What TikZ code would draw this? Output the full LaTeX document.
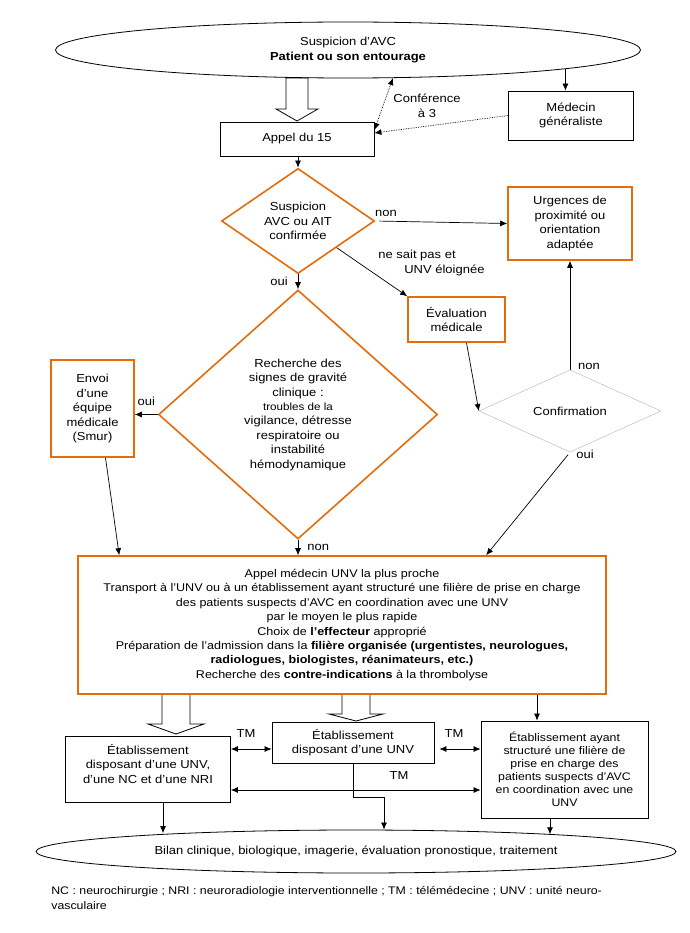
\documentclass[tikz,border=0pt]{standalone}
\usepackage{fontspec}
\setmainfont{Liberation Sans}[FakeStretch=1.12]
\usepackage{xcolor}
\usepackage{tikz}
\usetikzlibrary{arrows,arrows.meta,shapes.geometric}

\definecolor{avcorange}{RGB}{228,108,10}

% open (hollow) arrow: x, y top, y head, y tip, half shaft, half head
\newcommand{\hollowarrow}[6]{%
  \draw[line width=0.8pt] ({#1-#5},#2) -- ({#1+#5},#2) -- ({#1+#5},#3) -- ({#1+#6},#3)
    -- (#1,#4) -- ({#1-#6},#3) -- ({#1-#5},#3) -- cycle;}

\begin{document}
\begin{tikzpicture}[x=1pt, y=-1pt, ->, >={Latex[length=7pt,width=6pt]}, line width=0.7pt,
  font=\fontsize{11.6}{14.5}\selectfont]
\useasboundingbox (0,0) rectangle (689,933);
\tikzstyle{every node} = [inner sep=0pt, align=center]
\tikzstyle{blackbox} = [rectangle, draw=black, line width=0.8pt]
\tikzstyle{orangebox} = [rectangle, draw=avcorange, line width=1.6pt]
\tikzstyle{orangediam} = [diamond, draw=avcorange, line width=1.6pt]
\tikzstyle{oval} = [ellipse, draw=black, line width=0.8pt]

% big open arrows
\hollowarrow{297}{78}{109}{121}{11}{21}
\hollowarrow{176}{694}{724}{734}{14}{28}
\hollowarrow{356}{694}{714}{721}{14}{27}

\node[oval, minimum width=585pt, minimum height=56pt] (1) at (348,50) {Suspicion d'AVC\\\textbf{Patient ou son entourage}};
\node[blackbox, minimum width=154pt, minimum height=34pt] (2) at (297,139) {Appel du 15};
\node[blackbox, minimum width=125pt, minimum height=49pt] (3) at (571,115.5) {Médecin\\généraliste};
\node[orangediam, minimum width=153pt, minimum height=98pt] (4) at (298,221) {Suspicion\\AVC ou AIT\\confirmée};
\node[orangebox, minimum width=124pt, minimum height=73pt] (5) at (570,223.5) {Urgences de\\proximité ou\\orientation\\adaptée};
\node[orangebox, minimum width=97pt, minimum height=45pt] (6) at (456.5,319.5) {Évaluation\\médicale};
\node[orangediam, minimum width=279pt, minimum height=249pt] (7) at (298,414.5)
  {Recherche des\\signes de gravité\\clinique :\\[-0.5pt]
   \fontsize{10.4}{14}\selectfont troubles de la\\vigilance, détresse\\respiratoire ou\\instabilité\\hémodynamique};
\node[orangebox, minimum width=83pt, minimum height=97pt] (8) at (92.5,408.5) {Envoi\\d'une\\équipe\\médicale\\(Smur)};
\node[diamond, draw=gray!60, line width=0.4pt, minimum width=182pt, minimum height=62pt] (9) at (570,411) {Confirmation};
\node[orangebox, minimum width=528pt, minimum height=138pt, font=\fontsize{11.2}{14.4}\selectfont] (10) at (342,625)
  {Appel médecin UNV la plus proche\\
   Transport à l'UNV ou à un établissement ayant structuré une filière de prise en charge\\
   des patients suspects d'AVC en coordination avec une UNV\\
   par le moyen le plus rapide\\
   Choix de \textbf{l'effecteur} approprié\\
   Préparation de l'admission dans la \textbf{filière organisée (urgentistes, neurologues,}\\
   \textbf{radiologues, biologistes, réanimateurs, etc.)}\\
   Recherche des \textbf{contre-indications} à la thrombolyse};
\node[blackbox, minimum width=165pt, minimum height=66pt, text depth=11pt] (11) at (148,769) {Établissement\\disposant d'une UNV,\\d'une NC et d'une NRI};
\node[blackbox, minimum width=162pt, minimum height=41pt] (12) at (353,742.5) {Établissement\\disposant d'une UNV};
\node[blackbox, minimum width=167pt, minimum height=97pt, font=\fontsize{11}{13}\selectfont] (13) at (564.5,769.5)
  {Établissement ayant\\structuré une filière de\\prise en charge des\\patients suspects d'AVC\\en coordination avec une\\UNV};
\node[oval, minimum width=640pt, minimum height=43pt] (14) at (356,851.5) {Bilan clinique, biologique, imagerie, évaluation pronostique, traitement};
\node[anchor=north west, align=left, font=\fontsize{11}{15}\selectfont] (15) at (51,886)
  {NC : neurochirurgie ; NRI : neuroradiologie interventionnelle ; TM : télémédecine ; UNV : unité neuro-\\vasculaire};

% top part
\draw (1.-5.5) -- (1.-5.5 |- 3.north);
\draw[<->, densely dotted] ([yshift=9pt]2.east) -- (1.-32);
\draw[densely dotted] (3.west) -- ([yshift=6pt]2.east);
\node (16) at (427,106) {Conférence\\à 3};
\draw (2.south -| 4.north) -- (4.north);
\draw[shorten <=4pt] (4.east) -- (5.west);
\node (17) at (386,213) {non};
\draw (4.south east) -- (6.north west);
\node[anchor=north west, align=left] (18) at (378,250) {ne sait pas et\\\hspace*{26pt}UNV éloignée};
\draw (4.south) -- (7.north) node[midway, left=10pt] {oui};
% middle part
\draw (7.west) -- (7.west -| 8.east) node[midway, above=9pt] {oui};
\draw (7.south) -- (7.south |- 10.north) node[midway, right=9pt] {non};
\draw ([xshift=13pt]8.south) -- ([xshift=42pt]10.north west);
\draw ([xshift=10pt]6.south) -- (9.west);
\draw (9.north) -- (5.south);
\node (19) at (589,366) {non};
\draw[shorten <=3pt] (9.south) -- ([xshift=409pt]10.north west);
\node (20) at (585,454) {oui};
% bottom part
\draw ([xshift=-27.5pt]13.north |- 10.south) -- ([xshift=-27.5pt]13.north);
\draw[<->] ([yshift=20pt]11.east) -- ([yshift=20pt]11.east -| 12.west);
\draw[<->, shorten <=5pt] ([yshift=-6.5pt]12.east) -- ([yshift=-6.5pt]12.east -| 13.west);
\draw[<->] ([yshift=-21pt]11.east) -- ([yshift=-21pt]11.east -| 13.west);
\node (21) at (246,734) {TM};
\node (22) at (454,734) {TM};
\node (23) at (399,776) {TM};
\draw (12.south) -- ++(0,34) -| ([xshift=28pt]14.north);
\draw ([xshift=15pt]11.south) -- ([xshift=15pt]11.south |- 14.174.9);
\draw ([xshift=-14.5pt]13.south) -- ([xshift=-14.5pt]13.south |- 14.5.1);
\end{tikzpicture}
\end{document}
